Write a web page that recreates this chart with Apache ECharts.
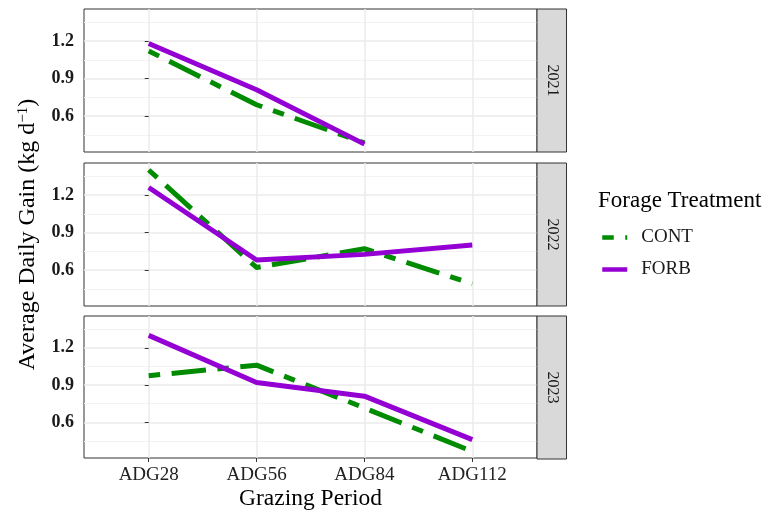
<!DOCTYPE html>
<html><head><meta charset="utf-8">
<script src="https://cdn.jsdelivr.net/npm/echarts@6/dist/echarts.min.js"></script>
<style>html,body{margin:0;padding:0;background:#fff}#c{width:777px;height:512px}</style>
</head><body><div id="c"></div>
<script>
// ---- data ----
const periods = ['ADG28', 'ADG56', 'ADG84', 'ADG112'];
const years = ['2021', '2022', '2023'];
const treatments = ['CONT', 'FORB'];
const cont2021 = [1.12, 0.69, 0.385];
const forb2021 = [1.18, 0.81, 0.375];
const cont2022 = [1.40, 0.62, 0.77, 0.49];
const forb2022 = [1.26, 0.68, 0.725, 0.80];
const cont2023 = [0.975, 1.06, 0.715, 0.365];
const forb2023 = [1.30, 0.92, 0.81, 0.46];
const yTicks = [0.6, 0.9, 1.2];
const xTicks = [0, 1, 2, 3];

// ---- layout / style ----
const FONT = 'Liberation Serif';
const gridLeft = 84, gridWidth = 453, gridHeight = 143;
const gridTops = [9, 163, 316];
const stripWidth = 29.5;
const colors = ['#008B00', '#9400D3'];
const dash = [11.5, 11.5, 34.5, 11.5];

const byYear = [[cont2021, forb2021], [cont2022, forb2022], [cont2023, forb2023]];

const grids = [], xAxes = [], yAxes = [], series = [], graphics = [];
for (let i = 0; i < 3; i++) {
  grids.push({left: gridLeft, top: gridTops[i], width: gridWidth, height: gridHeight,
    show: true, borderColor: '#333', borderWidth: 1, backgroundColor: '#fff', containLabel: false});
  const last = i === 2;
  xAxes.push({
    gridIndex: i, type: 'value', min: -0.6, max: 3.6, splitNumber: 4,
    axisLine: {show: false},
    axisTick: {show: last, customValues: xTicks, length: 4, lineStyle: {color: '#333', width: 1}},
    axisLabel: {show: last, customValues: xTicks, formatter: v => periods[Math.round(v)] || '',
      margin: 8, fontFamily: FONT, fontSize: 19, color: '#222'},
    splitLine: {show: true, lineStyle: {color: '#EBEBEB', width: 1.5}},
    name: last ? 'Grazing Period' : '', nameLocation: 'middle', nameGap: 29,
    nameTextStyle: {fontFamily: FONT, fontSize: 23.5, color: '#000'}
  });
  yAxes.push({
    gridIndex: i, type: 'value', min: 0.312, max: 1.456, splitNumber: 4,
    axisLine: {show: false},
    axisTick: {show: true, customValues: yTicks, length: 4, lineStyle: {color: '#333', width: 1}},
    axisLabel: {customValues: yTicks, formatter: v => v.toFixed(1), margin: 10,
      fontFamily: FONT, fontSize: 18, fontWeight: 'bold', color: '#1a1a1a'},
    splitLine: {show: true, lineStyle: {color: '#EBEBEB', width: 1.5}},
    minorTick: {show: false, splitNumber: 2},
    minorSplitLine: {show: true, lineStyle: {color: '#F3F3F3', width: 1}},
    name: i === 1 ? 'Average Daily Gain (kg d{sup|−1})' : '', nameLocation: 'middle', nameGap: 44,
    nameTextStyle: {fontFamily: FONT, fontSize: 24, color: '#000',
      rich: {sup: {fontFamily: FONT, fontSize: 15, color: '#000', verticalAlign: 'top'}}}
  });
  for (let j = 0; j < 2; j++) {
    series.push({
      type: 'line', name: treatments[j], xAxisIndex: i, yAxisIndex: i,
      data: byYear[i][j].map((v, k) => [k, v]),
      symbol: 'none', silent: true, z: 2 + j,
      itemStyle: {color: colors[j]},
      lineStyle: {color: colors[j], width: 5, type: j === 0 ? dash : 'solid', join: 'round', cap: 'butt'}
    });
  }
  graphics.push({type: 'rect', shape: {x: gridLeft + gridWidth, y: gridTops[i], width: stripWidth, height: gridHeight},
    style: {fill: '#D9D9D9', stroke: '#333', lineWidth: 1}, z: 10});
  graphics.push({type: 'text', x: gridLeft + gridWidth + stripWidth / 2 + 0.5, y: gridTops[i] + gridHeight / 2,
    rotation: -Math.PI / 2,
    style: {text: years[i], fill: '#1a1a1a', font: '16px "' + FONT + '"', align: 'center', verticalAlign: 'middle'}, z: 11});
}

const chart = echarts.init(document.getElementById('c'), null, {renderer: 'canvas'});
chart.setOption({
  animation: false,
  backgroundColor: '#fff',
  title: {text: 'Forage Treatment', left: 598, top: 189, padding: 0,
    textStyle: {fontFamily: FONT, fontSize: 23, fontWeight: 'normal', color: '#000'}},
  legend: {data: treatments, orient: 'vertical', left: 600, top: 228, padding: 0,
    itemWidth: 25, itemHeight: 14, itemGap: 13,
    itemStyle: {opacity: 0, borderWidth: 0},
    lineStyle: {width: 4.5},
    textStyle: {fontFamily: FONT, fontSize: 19, color: '#1a1a1a', padding: [0, 0, 0, 9]}},
  grid: grids, xAxis: xAxes, yAxis: yAxes, series: series, graphic: graphics
});
</script></body></html>
